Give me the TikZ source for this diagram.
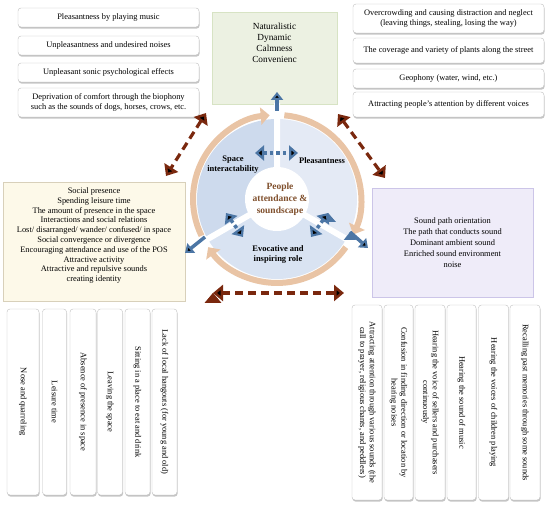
\documentclass[tikz,border=0pt]{standalone}
\usepackage{fontspec}
\setmainfont{Liberation Serif}
\usepackage{tikz}
\usetikzlibrary{shapes, arrows.meta, positioning, shadows}
\definecolor{ringtan}{RGB}{233,196,165}
\definecolor{darkbrown}{RGB}{122,40,14}
\definecolor{steel}{RGB}{76,118,165}
\definecolor{sectorA}{RGB}{205,218,237}
\definecolor{sectorB}{RGB}{228,234,245}
\definecolor{sectorC}{RGB}{217,227,242}
\definecolor{greenfill}{RGB}{236,241,226}
\definecolor{greenline}{RGB}{215,227,196}
\definecolor{creamfill}{RGB}{253,249,233}
\definecolor{creamline}{RGB}{216,208,186}
\definecolor{lilacfill}{RGB}{239,236,249}
\definecolor{lilacline}{RGB}{204,197,232}
\definecolor{peopletext}{RGB}{128,80,45}
\tikzstyle{card}        = [draw=black!25, fill=white, rounded corners=3pt, align=center, inner sep=1pt, font=\fontsize{8.4}{9.6}\selectfont, drop shadow={shadow xshift=0.6pt, shadow yshift=-1.6pt, fill=black!45, opacity=0.5}]
\tikzstyle{vcard}       = [card, rotate=-90]
\tikzstyle{panel}       = [align=center, inner sep=1pt, font=\fontsize{8.4}{9.8}\selectfont]
\tikzstyle{lbl}         = [align=center, inner sep=0pt, font=\bfseries\fontsize{8.5}{10}\selectfont]
\tikzstyle{ring}        = [draw=ringtan, line width=6pt, -{Triangle[length=9pt,width=17pt]}]
\tikzstyle{bluearrow}   = [draw=steel, line width=3.5pt, -{Triangle[length=8pt,width=12pt]}]
\tikzstyle{bluedots}    = [draw=steel, line width=3.5pt, dash pattern=on 3.5pt off 3pt, {Triangle[length=9pt,width=15pt]}-{Triangle[length=9pt,width=15pt]}]
\tikzstyle{brownarrows} = [draw=darkbrown, line width=3.2pt, dash pattern=on 8pt off 5pt, {Triangle[length=10pt,width=16pt]}-{Triangle[length=10pt,width=16pt]}]

\begin{document}
\begin{tikzpicture}[x=1pt, y=1pt]
\useasboundingbox (0,0) rectangle (550,508);

% top boxes
\node [card, minimum width=181pt, minimum height=19pt] at (108.5,490.5) (tl1) {Pleasantness by playing music};
\node [card, minimum width=181pt, minimum height=19pt] at (108.5,462.5) (tl2) {Unpleasantness and undesired noises};
\node [card, minimum width=181pt, minimum height=19pt] at (108.5,435.5) (tl3) {Unpleasant sonic psychological effects};
\node [card, minimum width=181pt, minimum height=29pt] at (108.5,405.5) (tl4) {Deprivation of comfort through the biophony\\such as the sounds of dogs, horses, crows, etc.};

\node [draw=greenline, fill=greenfill, minimum width=125pt, minimum height=92pt] at (274.5,450) (green) {};
\node [panel, font=\fontsize{9.3}{10.9}\selectfont, below=10pt of green.north] (greentext) {Naturalistic\\Dynamic\\Calmness\\Convenienc};

\node [card, minimum width=191pt, minimum height=29pt] at (448.5,489.5) (tr1) {Overcrowding and causing distraction and neglect\\(leaving things, stealing, losing the way)};
\node [card, minimum width=191pt, minimum height=25pt] at (448.5,457.5) (tr2) {The coverage and variety of plants along the street};
\node [card, minimum width=191pt, minimum height=19pt] at (448.5,429.5) (tr3) {Geophony (water, wind, etc.)};
\node [card, minimum width=191pt, minimum height=25pt] at (448.5,403.5) (tr4) {Attracting people's attention by different voices};

% side panels
\node [panel, draw=creamline, fill=creamfill, minimum width=182pt, minimum height=119pt] at (94,266.5) (left) {Social presence\\Spending leisure time\\The amount of presence in the space\\Interactions and social relations\\Lost/ disarranged/ wander/ confused/ in space\\Social convergence or divergence\\Encouraging attendance and use of the POS\\Attractive activity\\Attractive and repulsive sounds\\creating identity\\[4pt]};
\node [panel, font=\fontsize{8.4}{11}\selectfont, draw=lilacline, fill=lilacfill, minimum width=161pt, minimum height=109pt] at (452.5,265.5) (right) {Sound path orientation\\The path that conducts sound\\Dominant ambient sound\\Enriched sound environment\\noise};

% circle
\coordinate (c) at (277,309);
\fill [sectorA] (c) -- ++(90:80) arc [start angle=90, end angle=210, radius=80pt] -- cycle;
\fill [sectorB] (c) -- ++(-30:80) arc [start angle=-30, end angle=90, radius=80pt] -- cycle;
\fill [sectorC] (c) -- ++(210:80) arc [start angle=210, end angle=330, radius=80pt] -- cycle;
\draw [white, line width=6pt] (c) -- ++(90:96) (c) -- ++(210:98) (c) -- ++(-30:98);
\fill [white] (c) circle [radius=32pt];
\draw [ring] (c) ++(206:84) arc [start angle=206, end angle=95, radius=84pt];
\draw [ring] (c) ++(85:84) arc [start angle=85, end angle=-25, radius=84pt];
\draw [ring] (c) ++(-35:84) arc [start angle=-35, end angle=-145, radius=84pt];

\node [lbl, font=\bfseries\fontsize{9.5}{11.8}\selectfont, text=peopletext] at (280,309) (people) {People\\attendance \&\\soundscape};
\node [lbl] at (233,343) (space) {Space\\interactability};
\node [lbl] at (322,347) (pleasant) {Pleasantness};
\node [lbl] at (278,254) (evocative) {Evocative and\\inspiring role};

% arrow ends
\coordinate (ringtop) at (277,397);
\coordinate (greenin) at (277,416);
\coordinate (dotl) at (255,355);
\coordinate (dotr) at (298,355);
\coordinate (lla) at (226,295);
\coordinate (llb) at (243,271);
\coordinate (lra) at (328,295);
\coordinate (lrb) at (311,271);
\coordinate (outl0) at (205,271);
\coordinate (outl1) at (185,255);
\coordinate (outr0) at (350,276);
\coordinate (outr1) at (368,260);
\coordinate (bl0) at (206,395);
\coordinate (bl1) at (166,332);
\coordinate (br0) at (338,394);
\coordinate (br1) at (385,330);
\coordinate (bb0) at (213,215);
\coordinate (bb1) at (344,215);

% edges
\path [bluearrow] (ringtop) edge (greenin)
                  (outl0)   edge (outl1)
                  (outr0)   edge (outr1);
\path [bluedots]  (dotl) edge (dotr)
                  (lla)  edge (llb)
                  (lra)  edge (lrb);
\path [brownarrows] (bl0) edge (bl1)
                    (br0) edge (br1)
                    (bb0) edge (bb1);

% bottom left boxes
\node [vcard, minimum width=186pt, minimum height=32pt] at (23,106)    (bl1box) {Nose and quarreling};
\node [vcard, minimum width=186pt, minimum height=24pt] at (54.5,106)  (bl2box) {Leisure time};
\node [vcard, minimum width=186pt, minimum height=26pt] at (83,106)    (bl3box) {Absence of presence in space};
\node [vcard, minimum width=186pt, minimum height=25pt] at (110,106)   (bl4box) {Leaving the space};
\node [vcard, minimum width=186pt, minimum height=25pt] at (137.5,106) (bl5box) {Sitting in a place to eat and drink};
\node [vcard, minimum width=186pt, minimum height=25pt] at (164.5,106) (bl6box) {Lack of local hangouts (for young and old)};

% bottom right boxes
\node [vcard, minimum width=195pt, minimum height=30pt] at (367,105.5)   (br1box) {Attracting attention through various sounds (the\\call to prayer, religious chants, and peddlers)};
\node [vcard, minimum width=195pt, minimum height=29pt] at (398.5,105.5) (br2box) {Confusion in finding direction or location by\\hearing noises};
\node [vcard, minimum width=195pt, minimum height=30pt] at (430,105.5)   (br3box) {Hearing the voice of sellers and purchasers\\continuously};
\node [vcard, minimum width=195pt, minimum height=29pt] at (461.5,105.5) (br4box) {Hearing the sound of music};
\node [vcard, minimum width=195pt, minimum height=30pt] at (493.5,105.5) (br5box) {Hearing the voices of children playing};
\node [vcard, minimum width=195pt, minimum height=30pt] at (525,105.5)   (br6box) {Recalling past memories through some sounds};

\end{tikzpicture}
\end{document}
